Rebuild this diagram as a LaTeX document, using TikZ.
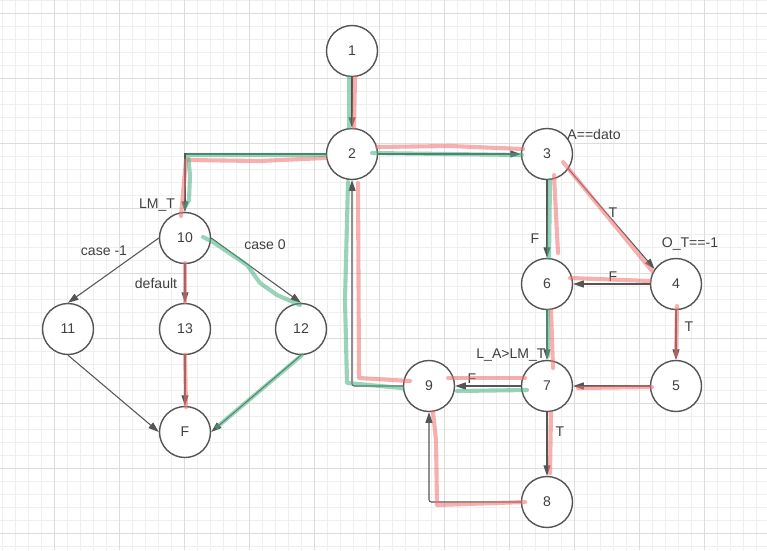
\documentclass[tikz,border=0pt]{standalone}
\usepackage{fontspec}
\setmainfont{Liberation Sans}
\usepackage{xcolor}
\usepackage{tikz}
\usetikzlibrary{arrows.meta}

\definecolor{gridminor}{HTML}{EFEFEF}
\definecolor{gridmajor}{HTML}{DCDCDC}
\definecolor{edgegray}{HTML}{555555}
\definecolor{pathred}{HTML}{F07070}
\definecolor{pathgreen}{HTML}{45B083}

\tikzset{
    state/.style={circle, draw=edgegray, line width=1.2pt, fill=white, minimum size=1.53cm,
        text=black!75, font=\fontsize{12}{14}\selectfont},
    edge/.style={draw=edgegray, line width=0.9pt, -{Triangle[length=9pt,width=6pt]}},
    lbl/.style={text=black!75, font=\fontsize{12}{14}\selectfont, inner sep=0pt},
    redpath/.style={draw=pathred, opacity=0.55, line width=3.5pt, line cap=round, line join=round},
    greenpath/.style={draw=pathgreen, opacity=0.55, line width=3.5pt, line cap=round, line join=round},
}

\begin{document}
\begin{tikzpicture}[x=0.03cm, y=-0.03cm]
    \clip (0,0) rectangle (767,550);
    \fill[white] (0,0) rectangle (767,550);

    % grid
    \foreach \x in {2,15,...,769} \draw[gridminor, line width=0.6pt] (\x,0) -- (\x,550);
    \foreach \y in {0,13,...,550} \draw[gridminor, line width=0.6pt] (0,\y) -- (767,\y);
    \foreach \x in {54,119,...,769} \draw[gridmajor, line width=0.7pt] (\x,0) -- (\x,550);
    \foreach \y in {13,78,...,550} \draw[gridmajor, line width=0.7pt] (0,\y) -- (767,\y);

    % states
    \node[state] (n1) at (352,51) {1};
    \node[state] (n2) at (352,154) {2};
    \node[state] (n3) at (547,154) {3};
    \node[state] (n4) at (676,284) {4};
    \node[state] (n5) at (676,386) {5};
    \node[state] (n6) at (547,284) {6};
    \node[state] (n7) at (547,386) {7};
    \node[state] (n8) at (547,502) {8};
    \node[state] (n9) at (429,386) {9};
    \node[state] (n10) at (185,238) {10};
    \node[state] (n11) at (68,329) {11};
    \node[state] (n12) at (301,329) {12};
    \node[state] (n13) at (185,329) {13};
    \node[state] (nF) at (185,432) {F};

    % conditions
    \node[lbl] (c3) at (594,134) {A==dato};
    \node[lbl] (c4) at (690,244) {O\_T==-1};
    \node[lbl] (c7) at (511,355) {L\_A>LM\_T};
    \node[lbl] (c10) at (157,205) {LM\_T};

    % edges
    \draw[edge] (n1) -- (n2);
    \draw[edge] (n2) -- (n3);
    \draw[edge] (n2.west) -| (n10.north);
    \draw[edge] (n3) -- (n6);
    \draw[edge] (n3.-35) -- (n4.145);
    \draw[edge] (n4) -- (n6);
    \draw[edge] (n4) -- (n5);
    \draw[edge] (n6) -- (n7);
    \draw[edge] (n5) -- (n7);
    \draw[edge] (n7) -- (n9);
    \draw[edge] (n7) -- (n8);
    \draw[edge, rounded corners=2pt] (n8.west) -| (n9.south);
    \draw[edge, rounded corners=2pt] (n9.west) -| (n2.south);
    \draw[edge] (n10.west) -- (n11.north);
    \draw[edge] (n10) -- (n13);
    \draw[edge] (n10.east) -- (n12.north);
    \draw[edge] (n11.south) -- (nF.west);
    \draw[edge] (n13) -- (nF);
    \draw[edge] (n12.south) -- (nF.east);

    % edge labels
    \node[lbl] (l36) at (535,239) {F};
    \node[lbl] (l34) at (613,213) {T};
    \node[lbl] (l46) at (613,277) {F};
    \node[lbl] (l45) at (689,327) {T};
    \node[lbl] (l79) at (472,379) {F};
    \node[lbl] (l78) at (560,432) {T};
    \node[lbl] (l1011) at (104,251) {case -1};
    \node[lbl] (l1013) at (156,283) {default};
    \node[lbl] (l1012) at (265,245) {case 0};

    % red path
    \draw[redpath] (355,77) -- (354,128);
    \draw[redpath] (325,158) -- (260,161) -- (186,160) -- (181,216);
    \draw[redpath] (377,147) -- (450,146) -- (523,149);
    \draw[redpath] (563,162) -- (572,173) -- (652,271);
    \draw[redpath] (554,175) -- (558,253);
    \draw[redpath] (570,278) -- (650,281);
    \draw[redpath] (677,306) -- (676,355);
    \draw[redpath] (551,310) -- (553,368);
    \draw[redpath] (578,388) -- (652,387);
    \draw[redpath] (448,378) -- (525,378);
    \draw[redpath] (551,413) -- (550,473);
    \draw[redpath] (525,502) -- (437,505) -- (436,440) -- (433,412);
    \draw[redpath] (358,183) -- (359,378) -- (410,381);
    \draw[redpath] (185,263) -- (185,302);
    \draw[redpath] (185,355) -- (186,407);

    % green path
    \draw[greenpath] (349,77) -- (349,128);
    \draw[greenpath] (325,155) -- (188,155) -- (190,175) -- (189,200) -- (185,207);
    \draw[greenpath] (372,153) -- (522,155);
    \draw[greenpath] (550,180) -- (549,258);
    \draw[greenpath] (548,311) -- (548,356);
    \draw[greenpath] (457,391) -- (527,390);
    \draw[greenpath] (348,182) -- (345,300) -- (347,383) -- (402,388);
    \draw[greenpath] (203,237) -- (213,242) -- (247,265) -- (260,283) -- (277,295) -- (300,305);
    \draw[greenpath] (302,355) -- (217,427);
\end{tikzpicture}
\end{document}
